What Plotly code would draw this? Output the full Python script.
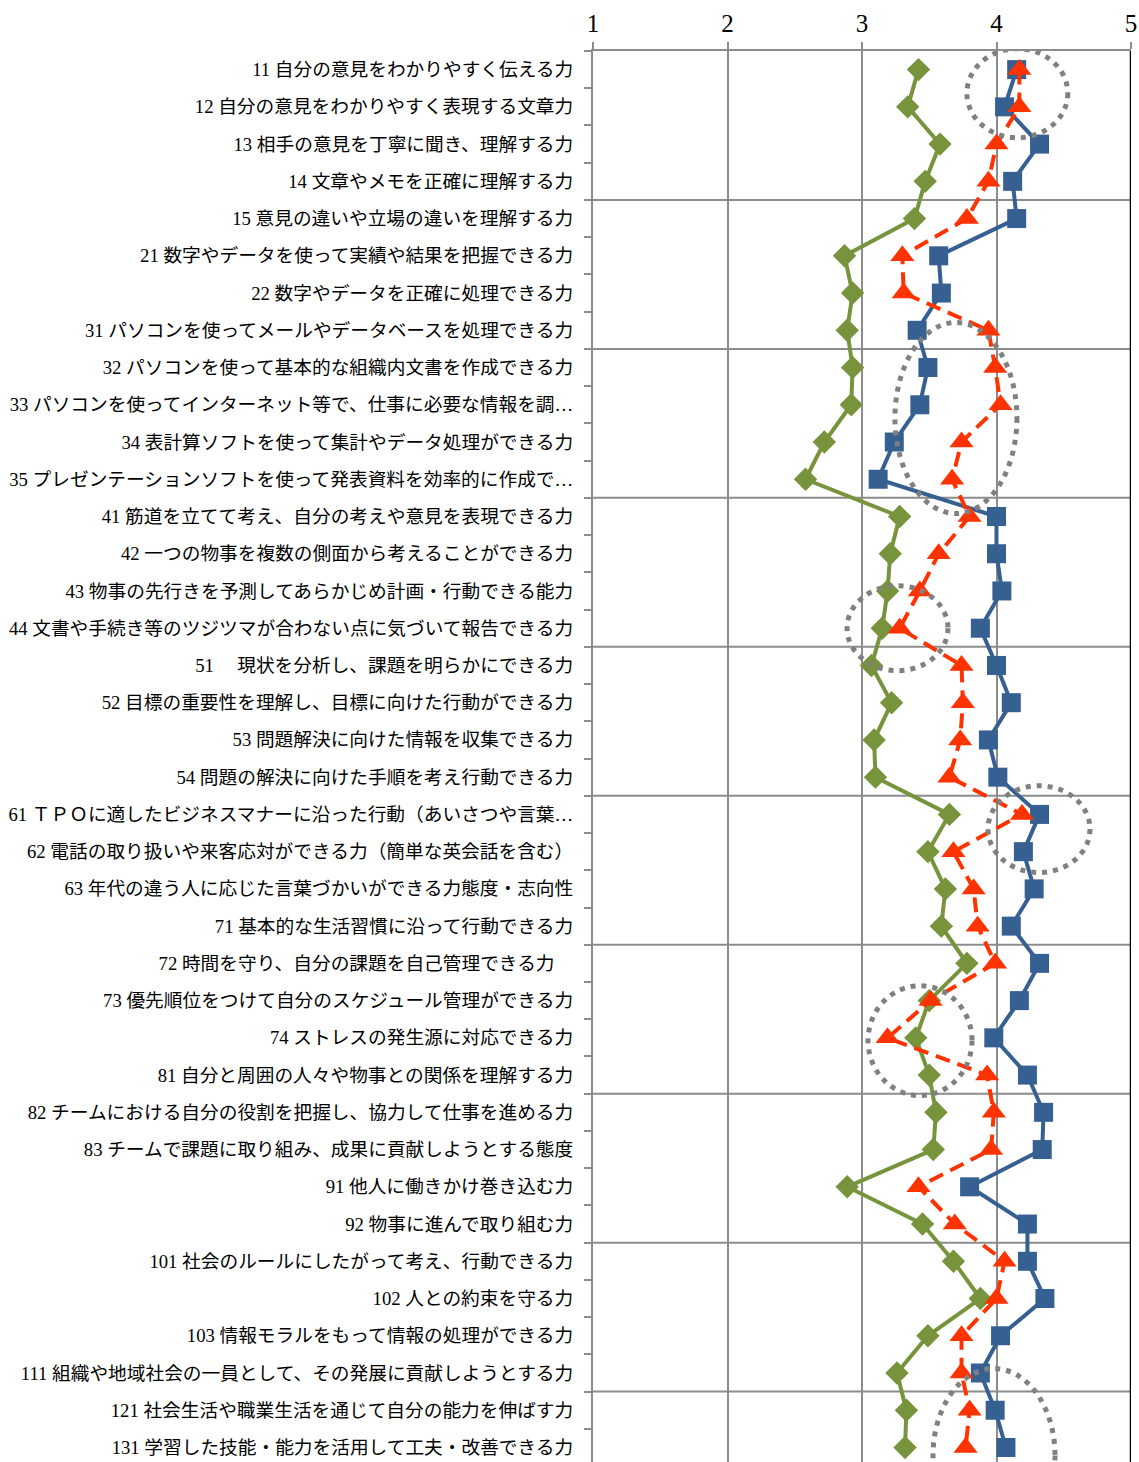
import plotly.graph_objects as go

labels = [
    "11 自分の意見をわかりやすく伝える力",
    "12 自分の意見をわかりやすく表現する文章力",
    "13 相手の意見を丁寧に聞き、理解する力",
    "14 文章やメモを正確に理解する力",
    "15 意見の違いや立場の違いを理解する力",
    "21 数字やデータを使って実績や結果を把握できる力",
    "22 数字やデータを正確に処理できる力",
    "31 パソコンを使ってメールやデータベースを処理できる力",
    "32 パソコンを使って基本的な組織内文書を作成できる力",
    "33 パソコンを使ってインターネット等で、仕事に必要な情報を調…",
    "34 表計算ソフトを使って集計やデータ処理ができる力",
    "35 プレゼンテーションソフトを使って発表資料を効率的に作成で…",
    "41 筋道を立てて考え、自分の考えや意見を表現できる力",
    "42 一つの物事を複数の側面から考えることができる力",
    "43 物事の先行きを予測してあらかじめ計画・行動できる能力",
    "44 文書や手続き等のツジツマが合わない点に気づいて報告できる力",
    "51 　現状を分析し、課題を明らかにできる力",
    "52 目標の重要性を理解し、目標に向けた行動ができる力",
    "53 問題解決に向けた情報を収集できる力",
    "54 問題の解決に向けた手順を考え行動できる力",
    "61 ＴＰＯに適したビジネスマナーに沿った行動（あいさつや言葉…",
    "62 電話の取り扱いや来客応対ができる力（簡単な英会話を含む）",
    "63 年代の違う人に応じた言葉づかいができる力態度・志向性",
    "71 基本的な生活習慣に沿って行動できる力",
    "72 時間を守り、自分の課題を自己管理できる力　",
    "73 優先順位をつけて自分のスケジュール管理ができる力",
    "74 ストレスの発生源に対応できる力",
    "81 自分と周囲の人々や物事との関係を理解する力",
    "82 チームにおける自分の役割を把握し、協力して仕事を進める力",
    "83 チームで課題に取り組み、成果に貢献しようとする態度",
    "91 他人に働きかけ巻き込む力",
    "92 物事に進んで取り組む力",
    "101 社会のルールにしたがって考え、行動できる力",
    "102 人との約束を守る力",
    "103 情報モラルをもって情報の処理ができる力",
    "111 組織や地域社会の一員として、その発展に貢献しようとする力",
    "121 社会生活や職業生活を通じて自分の能力を伸ばす力",
    "131 学習した技能・能力を活用して工夫・改善できる力",
]

green_vals = [3.42, 3.34, 3.58, 3.47, 3.39, 2.87, 2.93, 2.89, 2.93, 2.92,
              2.72, 2.58, 3.28, 3.21, 3.19, 3.15, 3.07, 3.22, 3.09, 3.10,
              3.65, 3.49, 3.62, 3.59, 3.78, 3.50, 3.40, 3.50, 3.55, 3.53,
              2.89, 3.45, 3.68, 3.88, 3.49, 3.26, 3.33, 3.32]

red_vals = [4.17, 4.17, 4.00, 3.94, 3.78, 3.30, 3.31, 3.94, 3.99, 4.03,
            3.74, 3.67, 3.80, 3.57, 3.43, 3.28, 3.74, 3.75, 3.73, 3.65,
            4.19, 3.68, 3.83, 3.86, 3.99, 3.51, 3.19, 3.93, 3.98, 3.96,
            3.42, 3.69, 4.06, 4.00, 3.74, 3.74, 3.80, 3.77]

blue_vals = [4.15, 4.06, 4.32, 4.12, 4.15, 3.57, 3.59, 3.41, 3.49, 3.43,
             3.24, 3.12, 4.00, 4.00, 4.04, 3.88, 4.00, 4.11, 3.94, 4.01,
             4.32, 4.20, 4.28, 4.11, 4.32, 4.17, 3.98, 4.23, 4.35, 4.34,
             3.80, 4.23, 4.23, 4.36, 4.03, 3.88, 3.99, 4.07]

x_ticks = [1, 2, 3, 4, 5]

# highlight ellipses (x0, x1, y0, y1) in data units
ellipses = [
    (3.78, 4.53, -0.56, 1.83),
    (3.245, 4.152, 6.79, 11.92),
    (2.889, 3.639, 13.86, 16.14),
    (3.937, 4.695, 19.23, 21.56),
    (3.045, 3.818, 24.60, 27.55),
    (3.528, 4.435, 34.88, 39.55),
]

GREEN = "#77933C"
BLUE = "#376092"
RED = "#FF3300"
GRID = "#8C8C8C"

ypos = list(range(len(labels)))

fig = go.Figure()
fig.add_trace(go.Scatter(
    x=green_vals, y=ypos, mode="lines+markers",
    line=dict(color=GREEN, width=4),
    marker=dict(symbol="diamond", size=18, color=GREEN),
    showlegend=False, cliponaxis=False,
))
fig.add_trace(go.Scatter(
    x=blue_vals, y=ypos, mode="lines+markers",
    line=dict(color=BLUE, width=4),
    marker=dict(symbol="square", size=19, color=BLUE),
    showlegend=False, cliponaxis=False,
))
fig.add_trace(go.Scatter(
    x=red_vals, y=ypos, mode="lines+markers",
    line=dict(color=RED, width=4, dash="15px,8px"),
    marker=dict(symbol="triangle-up", size=21, color=RED),
    showlegend=False, cliponaxis=False,
))

shapes = []
for k in range(4, len(labels), 4):
    shapes.append(dict(type="line", xref="x", yref="y", x0=1, x1=5,
                       y0=k - 0.5, y1=k - 0.5,
                       line=dict(color=GRID, width=2), layer="below"))
shapes.append(dict(type="line", xref="x", yref="paper", x0=5, x1=5, y0=0, y1=1,
                   line=dict(color="black", width=2.5), layer="above"))
for (x0, x1, y0, y1) in ellipses:
    shapes.append(dict(type="circle", xref="x", yref="y",
                       x0=x0, x1=x1, y0=y0, y1=y1,
                       line=dict(color="#808080", width=5, dash="5px,6px"),
                       layer="above"))

fig.update_layout(
    width=1139, height=1462,
    margin=dict(l=593, r=8, t=51, b=0, autoexpand=False),
    paper_bgcolor="white", plot_bgcolor="white",
    shapes=shapes,
    font=dict(family="Liberation Serif, Noto Sans CJK JP", color="black"),
    xaxis=dict(
        side="top", range=[1, 5], tickmode="array", tickvals=x_ticks,
        ticktext=[str(v) for v in x_ticks],
        showgrid=True, gridcolor=GRID, gridwidth=2,
        showline=True, linecolor=GRID, linewidth=2,
        ticks="outside", ticklen=7, tickwidth=2, tickcolor=GRID,
        tickfont=dict(family="Liberation Serif", size=25, color="black"),
        zeroline=False, fixedrange=True,
    ),
    yaxis=dict(
        range=[37.39, -0.5], tickmode="array", tickvals=ypos, ticktext=labels,
        showgrid=False, zeroline=False,
        showline=True, linecolor=GRID, linewidth=2,
        ticks="", ticklabelstandoff=14,
        tickfont=dict(family="Liberation Serif, Noto Sans CJK JP", size=18.7, color="black"),
        minor=dict(tickmode="array", tickvals=[i - 0.5 for i in range(len(labels) + 1)],
                   ticks="outside", ticklen=7, tickwidth=2, tickcolor=GRID,
                   showgrid=False),
    ),
)

fig.write_html("out.html")
